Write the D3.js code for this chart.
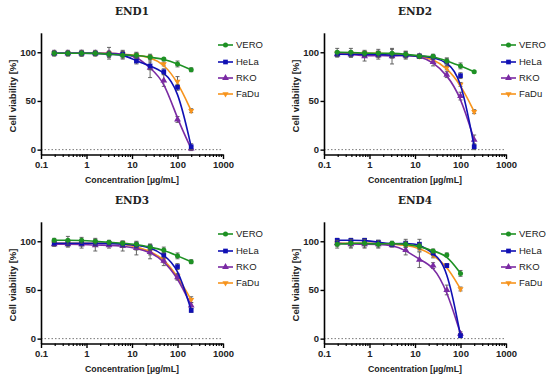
<!DOCTYPE html>
<html>
<head>
<meta charset="utf-8">
<script src="https://cdn.jsdelivr.net/npm/d3@7"></script>
<style>
  body { margin: 0; background: #fff; }
  svg text { font-family: "Liberation Sans", Arial, sans-serif; }
</style>
</head>
<body>
<svg id="chart" width="550" height="379"></svg>
<script>
// concentrations (µg/mL), two-fold dilutions
const conc = [0.195, 0.39, 0.78, 1.56, 3.125, 6.25, 12.5, 25, 50, 100, 200]
const conc4 = [0.195, 0.39, 0.78, 1.56, 3.125, 6.25, 12.5, 25, 50, 100]

const cellLines = ['VERO', 'HeLa', 'RKO', 'FaDu']
const panelTitles = ['END1', 'END2', 'END3', 'END4']
const xTicks = [0.1, 1, 10, 100, 1000]
const yTicks = [0, 50, 100]

// mean viability [%]
const end1Vero = [99, 99, 99, 99, 98, 97, 97, 95, 93, 88, 82]
const end1Hela = [99, 99, 99, 99, 98, 98, 91, 86, 80, 64, 3]
const end1Rko = [99, 99, 99, 99, 99, 98, 96, 84, 71, 31, 1]
const end1Fadu = [99, 99, 99, 99, 99, 98, 97, 95, 88, 70, 40]

const end2Vero = [100, 100, 99, 99, 99, 98, 96, 96, 91, 86, 80]
const end2Hela = [98, 98, 98, 98, 97, 97, 96, 95, 90, 76, 3]
const end2Rko = [98, 98, 96, 97, 96, 97, 96, 90, 77, 55, 10]
const end2Fadu = [99, 99, 99, 99, 98, 97, 96, 93, 84, 67, 39]

const end3Vero = [101, 101, 101, 100, 99, 98, 97, 94, 91, 85, 79]
const end3Hela = [98, 98, 98, 98, 98, 97, 96, 94, 86, 74, 29]
const end3Rko = [97, 97, 97, 96, 96, 95, 93, 89, 80, 63, 34]
const end3Fadu = [98, 98, 98, 98, 98, 98, 94, 90, 82, 64, 40]

const end4Vero = [97, 98, 98, 97, 98, 97, 95, 90, 86, 67]
const end4Hela = [101, 101, 101, 99, 97, 98, 97, 88, 75, 3]
const end4Rko = [98, 97, 97, 97, 96, 91, 81, 75, 50, 5]
const end4Fadu = [98, 98, 98, 98, 97, 96, 93, 86, 75, 51]

// standard deviations
const end1VeroSd = [3, 3, 3, 3, 3, 4, 3, 2, 1, 3, 2]
const end1HelaSd = [2, 2, 3, 2, 3, 3, 3, 4, 3, 3, 3]
const end1RkoSd = [2, 2, 2, 2, 6, 4, 3, 10, 6, 3, 2]
const end1FaduSd = [2, 2, 2, 2, 2, 2, 2, 3, 2, 5, 2]

const end2VeroSd = [4, 4, 3, 4, 4, 3, 2, 2, 3, 3, 1]
const end2HelaSd = [2, 3, 2, 3, 3, 3, 2, 2, 4, 3, 3]
const end2RkoSd = [3, 3, 5, 4, 8, 4, 2, 4, 3, 4, 5]
const end2FaduSd = [2, 2, 2, 2, 2, 2, 2, 2, 2, 2, 2]

const end3VeroSd = [2, 4, 3, 3, 2, 2, 2, 3, 3, 3, 2]
const end3HelaSd = [3, 3, 3, 3, 2, 3, 3, 3, 3, 3, 2]
const end3RkoSd = [2, 3, 4, 6, 3, 5, 7, 7, 5, 3, 3]
const end3FaduSd = [2, 2, 2, 3, 2, 2, 3, 4, 4, 3, 3]

const end4VeroSd = [4, 4, 4, 4, 2, 3, 3, 2, 2, 3]
const end4HelaSd = [2, 2, 2, 2, 2, 4, 5, 3, 2, 2]
const end4RkoSd = [3, 4, 4, 3, 2, 5, 8, 3, 5, 2]
const end4FaduSd = [2, 2, 2, 2, 2, 2, 3, 3, 2, 2]

const panelData = [
  { x: conc, y: [end1Vero, end1Hela, end1Rko, end1Fadu], sd: [end1VeroSd, end1HelaSd, end1RkoSd, end1FaduSd] },
  { x: conc, y: [end2Vero, end2Hela, end2Rko, end2Fadu], sd: [end2VeroSd, end2HelaSd, end2RkoSd, end2FaduSd] },
  { x: conc, y: [end3Vero, end3Hela, end3Rko, end3Fadu], sd: [end3VeroSd, end3HelaSd, end3RkoSd, end3FaduSd] },
  { x: conc4, y: [end4Vero, end4Hela, end4Rko, end4Fadu], sd: [end4VeroSd, end4HelaSd, end4RkoSd, end4FaduSd] }
]

const colors = ['#1e9124', '#1010b4', '#7a2aa3', '#f7941d']
const symbols = [d3.symbolCircle, d3.symbolSquare, d3.symbolTriangle, d3.symbolTriangle]
const symbolSize = [20, 22, 20, 16]
const symbolRotate = [0, 0, 0, 180]

const offX = [0, 283, 0, 283]
const offY = [0, 0, 189, 189]

let svg = d3.select('#chart')

panelData.forEach((panel, p) => {
  let ox = offX[p], oy = offY[p]
  let g = svg.append('g')

  let x = d3.scaleLog().domain([0.1, 1000]).range([41 + ox, 223 + ox])
  let y = d3.scaleLinear().domain([-5, 120]).range([154.5 + oy, 32.8 + oy])

  // zero reference line
  g.append('line')
    .attr('x1', x(0.1)).attr('x2', x(1000))
    .attr('y1', y(0)).attr('y2', y(0))
    .attr('stroke', '#777')
    .attr('stroke-width', 1)
    .attr('stroke-dasharray', '1.5,2')

  // minor x ticks
  let minor = []
  for (let d = 0.1; d < 1000; d *= 10) {
    for (let k = 2; k <= 9; k++) minor.push(d * k)
  }
  g.append('g')
    .attr('transform', `translate(0,${154.5 + oy})`)
    .call(d3.axisBottom(x).tickValues(minor).tickSize(2.5).tickFormat(''))
    .call(a => a.select('.domain').remove())
    .call(a => a.selectAll('line').attr('stroke-width', 1.2))

  let xAxis = g.append('g')
    .attr('transform', `translate(0,${154.5 + oy})`)
    .call(d3.axisBottom(x).tickValues(xTicks).tickSize(4.5).tickSizeOuter(0).tickPadding(2.5)
      .tickFormat(d3.format('~g')))
  xAxis.select('.domain').attr('stroke-width', 1.6)
  xAxis.selectAll('line').attr('stroke-width', 1.4)
  xAxis.selectAll('text').attr('font-size', 9.5).attr('font-weight', 'bold').attr('fill', '#222')

  let yAxis = g.append('g')
    .attr('transform', `translate(${41 + ox},0)`)
    .call(d3.axisLeft(y).tickValues(yTicks).tickSize(3.5).tickSizeOuter(0).tickPadding(1.5))
  yAxis.select('.domain').attr('stroke-width', 1.6)
  yAxis.selectAll('line').attr('stroke-width', 1.4)
  yAxis.selectAll('text').attr('font-size', 9.5).attr('font-weight', 'bold').attr('fill', '#222')

  // title
  g.append('text')
    .attr('x', 132 + ox).attr('y', 15 + oy)
    .attr('text-anchor', 'middle')
    .style('font-family', '"DejaVu Serif", serif')
    .attr('font-weight', 'bold')
    .attr('font-size', 10.5)
    .attr('fill', '#222')
    .text(panelTitles[p])

  g.append('text')
    .attr('x', 132 + ox).attr('y', 182.5 + oy)
    .attr('text-anchor', 'middle')
    .attr('font-weight', 'bold')
    .attr('font-size', 8.8)
    .attr('fill', '#222')
    .text('Concentration [µg/mL]')

  g.append('text')
    .attr('transform', `translate(${15.5 + ox},${96 + oy}) rotate(-90)`)
    .attr('text-anchor', 'middle')
    .attr('font-weight', 'bold')
    .attr('font-size', 9.5)
    .attr('fill', '#222')
    .text('Cell viability [%]')

  let line = d3.line()
    .x(d => x(d[0]))
    .y(d => y(d[1]))
    .curve(d3.curveBasis)

  // draw in reverse so VERO ends up on top
  d3.range(cellLines.length).reverse().forEach(s => {
    let pts = panel.x.map((c, i) => [c, panel.y[s][i], panel.sd[s][i]])
    let sg = g.append('g')

    // error bars
    let eb = sg.selectAll('g.err').data(pts).enter().append('g')
    eb.append('line')
      .attr('x1', d => x(d[0])).attr('x2', d => x(d[0]))
      .attr('y1', d => y(d[1] - d[2])).attr('y2', d => y(d[1] + d[2]))
      .attr('stroke', '#555').attr('stroke-width', 0.9)
    eb.append('line')
      .attr('x1', d => x(d[0]) - 2).attr('x2', d => x(d[0]) + 2)
      .attr('y1', d => y(d[1] + d[2])).attr('y2', d => y(d[1] + d[2]))
      .attr('stroke', '#555').attr('stroke-width', 0.9)
    eb.append('line')
      .attr('x1', d => x(d[0]) - 2).attr('x2', d => x(d[0]) + 2)
      .attr('y1', d => y(d[1] - d[2])).attr('y2', d => y(d[1] - d[2]))
      .attr('stroke', '#555').attr('stroke-width', 0.9)

    sg.append('path')
      .datum(pts)
      .attr('d', line)
      .attr('fill', 'none')
      .attr('stroke', colors[s])
      .attr('stroke-width', 1.6)

    sg.selectAll('path.pt').data(pts).enter().append('path')
      .attr('class', 'pt')
      .attr('d', d3.symbol().type(symbols[s]).size(symbolSize[s]))
      .attr('transform', d => `translate(${x(d[0])},${y(d[1])}) rotate(${symbolRotate[s]})`)
      .attr('fill', colors[s])
  })

  // legend
  let legend = g.append('g')
  cellLines.forEach((name, s) => {
    let ly = [45, 62, 78, 94][s] + oy
    legend.append('line')
      .attr('x1', 218 + ox).attr('x2', 233 + ox)
      .attr('y1', ly).attr('y2', ly)
      .attr('stroke', colors[s]).attr('stroke-width', 1.6)
    legend.append('path')
      .attr('d', d3.symbol().type(symbols[s]).size(symbolSize[s]))
      .attr('transform', `translate(${225.5 + ox},${ly}) rotate(${symbolRotate[s]})`)
      .attr('fill', colors[s])
    legend.append('text')
      .attr('x', 236 + ox).attr('y', ly + 3.3)
      .attr('font-size', 9.5)
      .attr('fill', '#222')
      .text(name)
  })
})
</script>
</body>
</html>
